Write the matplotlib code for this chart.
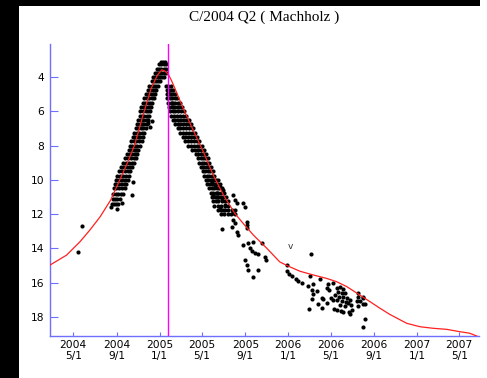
import numpy as np
import matplotlib
matplotlib.use('Agg')
import matplotlib.pyplot as plt
from matplotlib.patches import Rectangle

# ---------------- data ----------------
title = "C/2004 Q2 ( Machholz )"
base_date = '2004-05-01'          # day 0 of all *_day arrays
x_start, x_end = '2004-02-25', '2007-06-26'
y_top, y_bottom = 2.07, 19.11
perihelion = '2005-01-25'

tick_dates = ['2004-05-01', '2004-09-01', '2005-01-01', '2005-05-01', '2005-09-01',
              '2006-01-01', '2006-05-01', '2006-09-01', '2007-01-01', '2007-05-01']
tick_labels = ['2004\n5/1', '2004\n9/1', '2005\n1/1', '2005\n5/1', '2005\n9/1',
               '2006\n1/1', '2006\n5/1', '2006\n9/1', '2007\n1/1', '2007\n5/1']
y_ticks = [4, 6, 8, 10, 12, 14, 16, 18]

# predicted light curve (days after base_date, magnitude)
curve_day = [-66, -19, 19, 47, 76, 106, 151, 174, 198, 221, 239, 251, 260, 270, 279, 284,
             312, 340, 369, 397, 426, 458, 482, 511, 549, 586, 615, 643, 681, 719, 747,
             776, 813, 842, 870, 898, 946, 984, 1021, 1059, 1097, 1125, 1149]
curve_mag = [14.97, 14.39, 13.61, 12.93, 12.16, 11.18, 9.13, 7.97, 6.22, 4.66, 3.88, 3.58,
             3.65, 3.85, 4.22, 4.45, 5.83, 7.09, 8.36, 9.72, 10.88, 11.95, 12.54, 13.22,
             13.99, 14.79, 15.08, 15.33, 15.55, 15.75, 15.94, 16.23, 16.72, 17.11, 17.49,
             17.85, 18.37, 18.57, 18.66, 18.72, 18.86, 18.95, 19.15]

# observations: early isolated points
early_day = [12.5, 25.5]
early_mag = [14.19, 12.67]

# rising branch (one magnitude level, several dates each)
rise_mag = [11.4, 11.1, 10.8, 10.5, 10.25, 10.0, 9.75, 9.5, 9.25, 9.0, 8.75, 8.5, 8.25, 8.0,
            7.75, 7.5, 7.25, 7.0, 6.75, 6.5, 6.25, 6.0, 5.75, 5.5, 5.25, 5.0, 4.75, 4.5,
            4.25, 4.0, 3.75, 3.5, 3.25, 3.1]
rise_days = [[111, 116, 122, 128], [112, 118, 125, 132], [113, 120, 127, 134, 142],
             [115, 122, 130, 139, 147], [118, 126, 134, 143, 151], [121, 129, 137, 146, 155],
             [125, 133, 141, 150, 159], [130, 138, 146, 154, 162], [136, 144, 152, 160, 168],
             [142, 150, 158, 166, 173], [148, 156, 164, 172, 178], [152, 160, 167, 174, 181],
             [157, 164, 171, 178, 185], [161, 168, 175, 182, 189], [165, 172, 179, 186, 194],
             [169, 176, 183, 190, 198], [173, 180, 187, 194, 201], [177, 184, 191, 198, 205],
             [181, 188, 195, 202, 209], [185, 192, 199, 206, 213], [188, 195, 202, 209, 216],
             [190, 197, 205, 212, 218], [193, 200, 207, 214, 221], [197, 204, 211, 218, 224],
             [202, 209, 216, 222, 228], [206, 213, 220, 227, 232], [211, 218, 225, 231, 236],
             [216, 222, 228, 234, 240], [222, 228, 234, 240, 246],
             [227, 233, 240, 246, 252, 258], [232, 238, 244, 250, 256, 262],
             [238, 244, 250, 256, 262], [244, 250, 256, 262], [248, 254, 259]]
rise_out_day = [137, 168, 170, 218, 222, 213, 108, 124]
rise_out_mag = [11.32, 10.87, 10.10, 6.90, 6.55, 6.70, 11.6, 11.7]

# descending branch
desc_mag = [4.5, 4.75, 5.0, 5.25, 5.5, 5.75, 6.0, 6.25, 6.5, 6.75, 7.0, 7.25, 7.5, 7.75,
            8.0, 8.25, 8.5, 8.75, 9.0, 9.25, 9.5, 9.75, 10.0, 10.25, 10.5, 10.75, 11.0,
            11.25, 11.5, 11.75, 12.0]
desc_days = [[264, 270, 276], [265, 271, 277, 282], [266, 272, 278, 284, 288],
             [267, 274, 281, 288, 295], [269, 276, 283, 290, 297, 303],
             [272, 279, 286, 293, 300, 308], [275, 282, 290, 298, 306, 314],
             [278, 286, 294, 302, 310, 320], [282, 290, 298, 306, 314, 322, 328],
             [288, 296, 304, 312, 320, 328, 334], [296, 304, 312, 320, 328, 336, 340],
             [304, 312, 320, 328, 336, 344], [310, 318, 326, 334, 342, 350],
             [318, 326, 334, 342, 350, 358], [326, 334, 342, 350, 358, 364],
             [338, 346, 354, 362, 370], [348, 355, 362, 370, 377], [354, 361, 368, 375, 382],
             [358, 365, 372, 379, 386], [362, 369, 376, 383, 390], [368, 375, 382, 389, 396],
             [372, 379, 386, 393, 400], [376, 383, 390, 397, 404, 410],
             [380, 387, 394, 401, 408, 415], [386, 393, 400, 407, 414, 421],
             [390, 397, 404, 412, 420, 427], [393, 401, 409, 417, 425, 433],
             [396, 404, 412, 421, 430, 438], [400, 410, 420, 430, 440],
             [410, 420, 430, 440, 450], [418, 428, 438, 448, 458]]

# fading tail, scattered points
tail_day = [392.6, 402.0, 416.2, 425.5, 406.8, 397.2, 411.3, 421.0, 430.3, 416.2, 425.5,
            453.9, 458.7, 463.5, 482.3, 487.1, 453.9, 458.7, 421.0, 453.9, 458.7, 449.3,
            491.9, 491.9, 491.9, 463.5, 468.1, 482.3, 496.4, 510.6, 501.3, 506.1, 515.4,
            524.8, 534.5, 487.1, 491.9, 496.4, 524.8, 508.9, 543.8, 546.7, 269.5, 279.0,
            674.3, 605.4, 605.4, 612.7, 619.6, 631.8, 638.3, 647.9, 671.5, 699.8, 665.0,
            680.8, 676.3, 690.5, 680.8, 676.3, 693.3, 669.5, 704.7, 704.7, 709.2, 721.7,
            718.8, 726.2, 737.6, 730.2, 735.9, 718.8, 740.4, 748.9, 758.6, 765.9, 782.1,
            791.5, 785.8, 747.2, 756.6, 765.9, 751.7, 761.4, 770.8, 742.4, 754.6, 765.9,
            775.6, 747.2, 761.4, 773.6, 785.0, 780.1, 756.6, 770.8, 786.9, 806.8, 803.9,
            813.3, 822.7, 827.5, 806.8, 821.0, 827.5, 822.7, 808.5, 822.7]
tail_mag = [10.11, 10.32, 10.40, 10.59, 10.78, 10.88, 10.98, 11.17, 11.46, 11.57, 11.76,
            10.88, 11.17, 11.37, 11.37, 11.57, 11.95, 11.76, 12.88, 12.34, 12.53, 12.73,
            12.44, 12.63, 12.83, 13.02, 13.22, 13.80, 13.70, 13.61, 13.99, 14.13, 14.25,
            14.32, 13.70, 14.67, 14.97, 15.26, 15.26, 15.68, 14.48, 14.67, 4.95, 5.53,
            14.34, 14.97, 15.30, 15.49, 15.59, 15.80, 15.90, 16.00, 15.59, 15.78, 16.19,
            16.09, 16.42, 16.48, 16.67, 16.95, 17.26, 17.55, 17.49, 16.87, 16.93, 16.09,
            16.33, 16.42, 16.00, 16.91, 17.01, 17.17, 17.53, 17.59, 17.63, 17.69, 17.69,
            17.59, 17.82, 16.33, 16.27, 16.38, 16.52, 16.62, 16.62, 16.72, 16.82, 16.82,
            16.91, 17.01, 17.05, 17.11, 17.01, 17.20, 17.30, 17.36, 17.30, 16.62, 17.07,
            17.07, 17.26, 17.24, 17.34, 16.91, 18.13, 18.60, 16.82, 16.85]

# "v" mark (upper-limit symbol)
v_day, v_mag = 615, 13.9

# ---------------- plotting ----------------
blue = '#6e6eff'
tick_font = ['Liberation Sans Narrow', 'DejaVu Sans']

def days(s):
    return int((np.datetime64(s) - np.datetime64(base_date)).astype(int))

fig = plt.figure(figsize=(4.87, 3.78), dpi=100, facecolor='white')
ax = fig.add_axes([50 / 487, 42 / 378, 429 / 487, 292 / 378])
ax.set_facecolor('white')

# black frame pieces of the original screenshot
fig.patches.append(Rectangle((0, 0), 19 / 487, 1, transform=fig.transFigure,
                             facecolor='black', edgecolor='none', zorder=0))
fig.patches.append(Rectangle((0, 1 - 6 / 378), 480 / 487, 6 / 378, transform=fig.transFigure,
                             facecolor='black', edgecolor='none', zorder=0))

obs_x, obs_y = list(early_day), list(early_mag)
for m, ds in zip(rise_mag, rise_days):
    obs_x += ds
    obs_y += [m] * len(ds)
obs_x += rise_out_day
obs_y += rise_out_mag
for m, ds in zip(desc_mag, desc_days):
    obs_x += ds
    obs_y += [m] * len(ds)
obs_x += tail_day
obs_y += tail_mag

ax.plot(obs_x, obs_y, 'o', color='black', markersize=3.0, markeredgewidth=0, zorder=2)
ax.plot(curve_day, curve_mag, '-', color='#ff2020', linewidth=0.9, zorder=3)
ax.axvline(days(perihelion), color='#ff00ff', linewidth=1.0, zorder=4)
ax.text(v_day, v_mag, 'v', fontsize=6.5, color='#333333', ha='center', va='center',
        family=tick_font)

ax.set_xlim(days(x_start), days(x_end))
ax.set_ylim(y_bottom, y_top)

ax.set_xticks([days(d) for d in tick_dates])
ax.set_xticklabels(tick_labels, family=tick_font, fontsize=7.7, linespacing=1.05)
ax.set_yticks(y_ticks)
ax.set_yticklabels([str(v) for v in y_ticks], family=tick_font, fontsize=7.7)

for side in ['top', 'right']:
    ax.spines[side].set_visible(False)
for side in ['left', 'bottom']:
    ax.spines[side].set_color(blue)
    ax.spines[side].set_linewidth(1.0)

ax.tick_params(axis='y', direction='in', length=5.5, width=0.8, color=blue, pad=4,
               labelcolor='black')
ax.tick_params(axis='x', direction='in', length=3, width=0.8, color=blue, pad=3,
               labelcolor='black')

fig.text(264 / 487, 1 - 17 / 378, title, ha='center', va='center',
         family=['Liberation Serif', 'DejaVu Serif'], fontsize=11)

fig.savefig('out.png', dpi=100, facecolor='white')
